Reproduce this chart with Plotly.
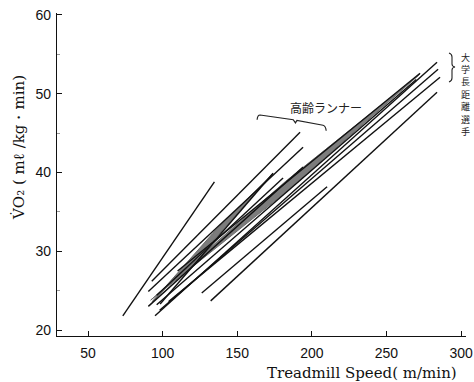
import plotly.graph_objects as go

# ---- data ----
# Elderly runners (高齢ランナー)
eld_x0 = [92.7, 90.4, 90.4, 98.3, 96.0, 126.2, 73.3]
eld_y0 = [26.2, 24.9, 23.0, 23.3, 24.4, 24.7, 21.8]
eld_x1 = [192.1, 194.1, 194.1, 174.0, 180.7, 210.2, 134.7]
eld_y1 = [45.1, 43.2, 40.7, 39.9, 39.3, 38.2, 38.8]

# University distance runners (大学長距離選手)
uni_x0 = [94.9, 98.0, 104.0, 132.2, 110.0, 96.0]
uni_y0 = [21.8, 22.5, 23.6, 23.7, 27.5, 23.2]
uni_x1 = [283.9, 284.6, 285.9, 283.9, 272.5, 270.0]
uni_y1 = [54.0, 53.1, 52.1, 50.2, 52.6, 51.8]

# Overlapping (shaded) bands
band_x0 = [92.0, 93.0]
band_y0 = [23.8, 23.6]
band_x1 = [272.5, 174.0]
band_y1 = [52.5, 39.9]
band_half = [0.7, 0.5]

x_ticks = [50, 100, 150, 200, 250, 300]
y_ticks = [20, 30, 40, 50, 60]
vertical_label = "大学長距離選手"

fig = go.Figure()

for bx0, by0, bx1, by1, h in zip(band_x0, band_y0, band_x1, band_y1, band_half):
    mx = (bx0 + bx1) / 2
    my = (by0 + by1) / 2
    fig.add_trace(go.Scatter(
        x=[bx0, mx, bx1, mx, bx0],
        y=[by0, my + h, by1, my - h, by0],
        mode="lines", fill="toself", fillcolor="#7c7c7c",
        line=dict(color="#6a6a6a", width=1), hoverinfo="skip", showlegend=False))

for xs0, ys0, xs1, ys1 in [(eld_x0, eld_y0, eld_x1, eld_y1), (uni_x0, uni_y0, uni_x1, uni_y1)]:
    for a, b, c, d in zip(xs0, ys0, xs1, ys1):
        fig.add_trace(go.Scatter(x=[a, c], y=[b, d], mode="lines",
                                 line=dict(color="#111111", width=1.4),
                                 hoverinfo="skip", showlegend=False))

tickfont = dict(family="Liberation Sans, Arial, sans-serif", size=14, color="#111")

W, H = 474, 382
L, R, T, B = 57, 8, 13, 46
PW, PH = W - L - R, H - T - B


def px(page_x):
    return (page_x - L) / PW


def py(page_y):
    return (H - B - page_y) / PH


fig.update_layout(
    width=W, height=H,
    margin=dict(l=L, r=R, t=T, b=B, autoexpand=False),
    paper_bgcolor="white", plot_bgcolor="white",
    xaxis=dict(range=[29.2, 303.3], tickvals=x_ticks, ticks="inside", ticklen=5,
               tickcolor="#111", showline=True, linecolor="#111", linewidth=1.2,
               showgrid=False, zeroline=False, tickfont=tickfont, automargin=False,
               ticklabelstandoff=4, ticklabeloverflow="allow"),
    yaxis=dict(range=[19.24, 60.25], tickvals=y_ticks, ticks="inside", ticklen=5,
               tickcolor="#111", showline=True, linecolor="#111", linewidth=1.2,
               showgrid=False, zeroline=False, tickfont=tickfont, automargin=False,
               ticklabelstandoff=2, ticklabeloverflow="allow",
               minor=dict(tickvals=[25, 35, 45, 55], ticks="inside", ticklen=3,
                          tickcolor="#999")),
)

# Elderly runners label and brace
fig.add_annotation(x=209.5, y=48.3, xref="x", yref="y", text="高齢ランナー",
                   xanchor="center", yanchor="middle",
                   showarrow=False, font=dict(family="Noto Sans CJK JP", size=12, color="#222"))
fig.add_shape(type="path", xref="x", yref="y",
              path="M 163.3 46.7 Q 163.6 47.3 165.3 47.3 L 187.5 46.7 L 189 46.3 L 190 46.6 L 207.5 46.0 Q 209.3 45.9 209.6 45.3",
              line=dict(color="#222", width=1.2))

# University runners brace + vertical label
fig.add_shape(type="path", xref="paper", yref="paper",
              path=(f"M {px(449)} {py(53)} Q {px(452)} {py(54)} {px(452)} {py(57)} "
                    f"L {px(452)} {py(64)} Q {px(452)} {py(66.5)} {px(455)} {py(67)} "
                    f"Q {px(452)} {py(67.5)} {px(452)} {py(70)} L {px(452)} {py(78)} "
                    f"Q {px(452)} {py(81)} {px(449)} {py(82)}"),
              line=dict(color="#222", width=1.1))
for i, ch in enumerate(vertical_label):
    fig.add_annotation(x=px(465), y=py(57 + 12.4 * i), xref="paper", yref="paper",
                       xanchor="center", yanchor="middle", borderpad=0,
                       text=ch, showarrow=False,
                       font=dict(family="Noto Sans CJK JP", size=9, color="#222"))

# Axis titles
fig.add_annotation(x=px(459), y=py(373), xref="paper", yref="paper",
                   xanchor="right", yanchor="middle",
                   text="Treadmill Speed( m/min)", showarrow=False,
                   font=dict(family="DejaVu Serif, serif", size=15, color="#111"))
fig.add_annotation(x=px(19), y=py(148), xref="paper", yref="paper",
                   xanchor="center", yanchor="middle",
                   text="V̇O₂ ( mℓ /kg・min)", textangle=-90, showarrow=False,
                   font=dict(family="DejaVu Serif, serif", size=15, color="#111"))

fig.write_html("out.html",
               config={"displayModeBar": False},
               post_script="document.documentElement.style.margin='0';"
                           "document.body.style.margin='0';"
                           "document.body.style.overflow='hidden';")
